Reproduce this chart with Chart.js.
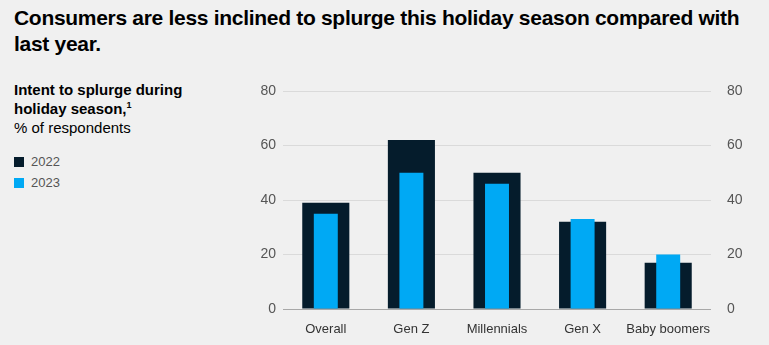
<!DOCTYPE html>
<html>
<head>
<meta charset="utf-8">
<script src="https://cdn.jsdelivr.net/npm/chart.js@4/dist/chart.umd.min.js"></script>
<style>
  html, body { margin: 0; padding: 0; background: #f0f0f0; }
  body { width: 769px; height: 345px; position: relative; overflow: hidden; font-family: "Liberation Sans", Arial, sans-serif; }
  #title { position: absolute; left: 14px; top: 5px; width: 735px; font-size: 21px; font-weight: bold; line-height: 26px; color: #000; letter-spacing: -0.3px; }
  #sub { position: absolute; left: 14px; top: 80px; font-size: 15px; line-height: 19px; color: #000; }
  #sub b { font-weight: bold; }
  #sub sup { font-size: 9px; vertical-align: 6px; line-height: 0; }
  .leg { position: absolute; left: 14px; font-size: 13px; color: #555; line-height: 14px; }
  .leg i { display: inline-block; width: 10px; height: 10px; margin-right: 7px; vertical-align: -1px; }
  #chart { position: absolute; left: 0; top: 0; }
</style>
</head>
<body>
<div id="title">Consumers are less inclined to splurge this holiday season compared with last year.</div>
<div id="sub"><b>Intent to splurge during<br>holiday season,<sup>1</sup></b><br>% of respondents</div>
<div class="leg" style="top:155px"><i style="background:#051c2c"></i>2022</div>
<div class="leg" style="top:176px"><i style="background:#00a9f4"></i>2023</div>
<canvas id="chart" width="769" height="345"></canvas>
<script>
const categories = ['Overall', 'Gen Z', 'Millennials', 'Gen X', 'Baby boomers'];
const values2022 = [39, 62, 50, 32, 17];
const values2023 = [35, 50, 46, 33, 20];
const yTicks = [0, 20, 40, 60, 80];

const xFont = { family: '"Liberation Sans", Arial, sans-serif', size: 13 };
const yFont = { family: '"Liberation Sans", Arial, sans-serif', size: 14 };

new Chart(document.getElementById('chart'), {
  type: 'bar',
  data: {
    labels: categories,
    datasets: [
      { label: '2023', data: values2023, backgroundColor: '#00a9f4', barPercentage: 0.28, categoryPercentage: 1, order: 0 },
      { label: '2022', data: values2022, backgroundColor: '#051c2c', barPercentage: 0.55, categoryPercentage: 1, order: 1 }
    ]
  },
  options: {
    responsive: false,
    animation: false,
    events: [],
    layout: { padding: { left: 240, right: 18, top: 91, bottom: 6 } },
    plugins: { legend: { display: false }, tooltip: { enabled: false } },
    datasets: { bar: { grouped: false } },
    scales: {
      x: {
        grid: { display: false },
        border: { display: false },
        ticks: { color: '#333', font: xFont, padding: 5, maxRotation: 0, minRotation: 0, autoSkip: false },
        afterFit: s => { s.height = 30; }
      },
      y: {
        position: 'left',
        min: 0, max: 80,
        afterBuildTicks: s => { s.ticks = yTicks.map(v => ({ value: v })); },
        grid: {
          drawTicks: false,
          color: c => (c.tick && c.tick.value === 0) ? '#a8a8a8' : '#dadada',
          lineWidth: 1
        },
        border: { display: false },
        ticks: { color: '#555', font: yFont, padding: 7 },
        afterFit: s => { s.width = 43; }
      },
      y2: {
        position: 'right',
        min: 0, max: 80,
        afterBuildTicks: s => { s.ticks = yTicks.map(v => ({ value: v })); },
        grid: { display: false },
        border: { display: false },
        ticks: { color: '#555', font: yFont, padding: 8 },
        afterFit: s => { s.width = 40; }
      }
    }
  }
});
</script>
</body>
</html>
